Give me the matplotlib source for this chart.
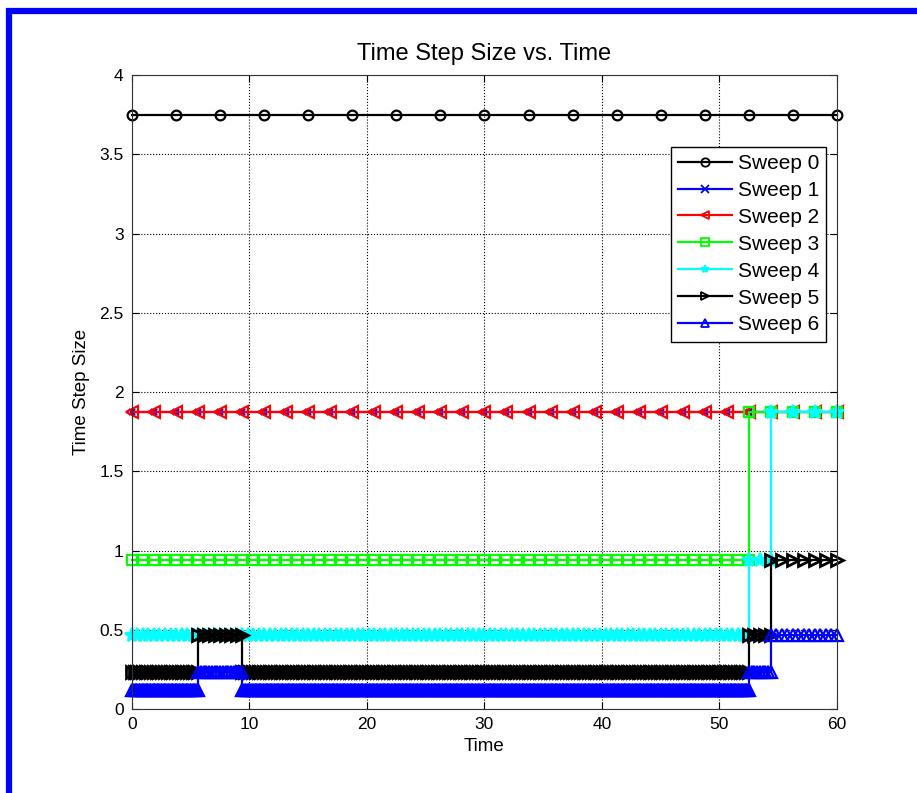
import numpy as np
import matplotlib
matplotlib.use("Agg")
import matplotlib.pyplot as plt
from matplotlib.patches import Rectangle

plt.rcParams['font.family'] = ['Liberation Sans', 'DejaVu Sans']

# each sweep: times where the step size changes, and the step size in each interval
labels = ['Sweep 0', 'Sweep 1', 'Sweep 2', 'Sweep 3', 'Sweep 4', 'Sweep 5', 'Sweep 6']
breaks = [
    [0, 60],
    [0, 60],
    [0, 60],
    [0, 52.5, 60],
    [0, 52.5, 54.375, 60],
    [0, 5.625, 9.375, 52.5, 54.375, 60],
    [0, 5.625, 9.375, 52.5, 54.375, 60],
]
step_sizes = [
    [3.75],
    [1.875],
    [1.875],
    [0.9375, 1.875],
    [0.46875, 0.9375, 1.875],
    [0.234375, 0.46875, 0.234375, 0.46875, 0.9375],
    [0.1171875, 0.234375, 0.1171875, 0.234375, 0.46875],
]
x_ticks = [0, 10, 20, 30, 40, 50, 60]
y_ticks = [0, 0.5, 1, 1.5, 2, 2.5, 3, 3.5, 4]
y_ticklabels = ['0', '0.5', '1', '1.5', '2', '2.5', '3', '3.5', '4']

cyan = (0, 1, 1)
colors = ['k', 'b', 'r', (0, 1, 0), cyan, 'k', 'b']
markers = ['o', 'x', '<', 's', '*', '>', '^']
msizes = [7, 4, 8, 7, 10, 8.5, 8]
medges = [1.6, 1.6, 1.6, 1.6, 1.6, 2.0, 1.6]
mfaces = ['none', 'none', 'none', 'none', cyan, 'none', 'none']


def sweep_points(bk, dts):
    # time grid of a sweep: uniform steps inside each interval
    t_all, dt_all = [], []
    for a, b, dt in zip(bk[:-1], bk[1:], dts):
        n = int(round((b - a) / dt))
        t = a + dt * np.arange(n + 1)
        t_all.append(t)
        dt_all.append(np.full(len(t), dt))
    return np.concatenate(t_all), np.concatenate(dt_all)


fig = plt.figure(figsize=(9.17, 7.93), dpi=100)
ax = fig.add_axes([0.1439, 0.1059, 0.7688, 0.7995])

for i in range(len(labels)):
    t, dt = sweep_points(breaks[i], step_sizes[i])
    ax.plot(t, dt, color=colors[i], marker=markers[i], markersize=msizes[i],
            markerfacecolor=mfaces[i], markeredgewidth=medges[i], linewidth=1.6,
            label=labels[i], clip_on=False)

ax.set_xlim(0, 60)
ax.set_ylim(0, 4)
ax.set_xticks(x_ticks)
ax.set_yticks(y_ticks)
ax.set_yticklabels(y_ticklabels)
ax.tick_params(direction='in', top=True, right=True, length=5, labelsize=12.5, pad=6)
ax.grid(True, linestyle=':', color='k', linewidth=0.8)
for s in ax.spines.values():
    s.set_color('#333333')

ax.set_title('Time Step Size vs. Time', fontsize=17, pad=11)
ax.set_xlabel('Time', fontsize=13.5, labelpad=4)
ax.set_ylabel('Time Step Size', fontsize=13.5, labelpad=7)

leg = ax.legend(loc='upper right', bbox_to_anchor=(0.985, 0.887), fontsize=15,
                fancybox=False, framealpha=1, edgecolor='k', handlelength=2.6,
                handletextpad=0.25, labelspacing=0.38, borderpad=0.35,
                borderaxespad=0)
leg.get_frame().set_linewidth(1)
for h in leg.legend_handles:
    h.set_markersize(6)
    h.set_markeredgewidth(1.3)

# blue frame around the figure
fig.patches.append(Rectangle((9 / 917, -0.1), 1.2, 1 - 11 / 793 + 0.1,
                             transform=fig.transFigure, fill=False,
                             edgecolor='#0000ff', linewidth=4.5))

fig.savefig('out.png', dpi=100)
